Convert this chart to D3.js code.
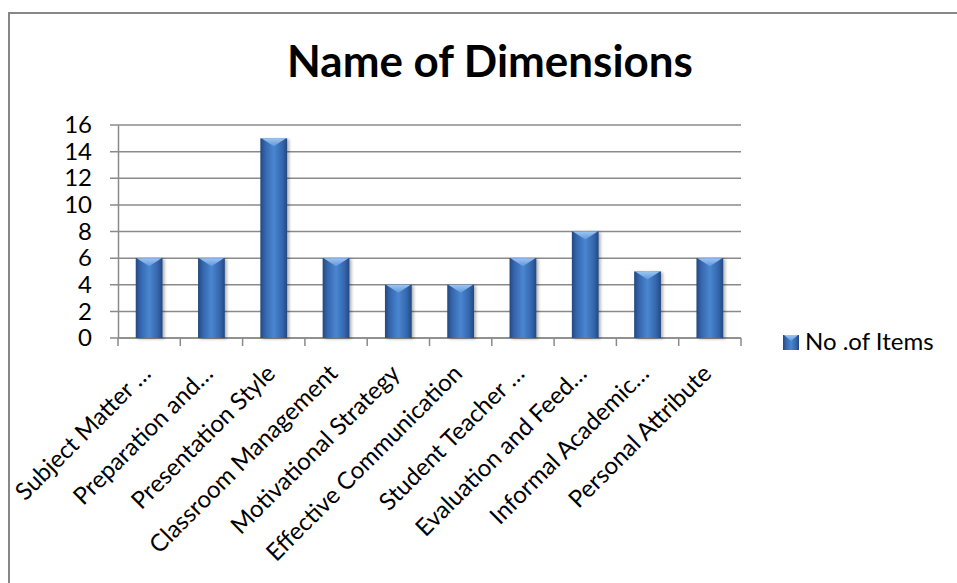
<!DOCTYPE html>
<html>
<head>
<meta charset="utf-8">
<script src="https://cdn.jsdelivr.net/npm/d3@7"></script>
<style>
  body { margin: 0; background: white; }
  svg { display: block; font-family: Lato, 'Open Sans', sans-serif; }
</style>
</head>
<body>
<div class="display"></div>
<script>
const categories = ['Subject Matter \u2026', 'Preparation and\u2026', 'Presentation Style', 'Classroom Management',
    'Motivational Strategy', 'Effective Communication', 'Student Teacher \u2026', 'Evaluation and Feed\u2026',
    'Informal Academic\u2026', 'Personal Attribute'];
const values = [6, 6, 15, 6, 4, 4, 6, 8, 5, 6];
const yTicks = [0, 2, 4, 6, 8, 10, 12, 14, 16];
const seriesName = 'No .of Items';
const title = 'Name of Dimensions';

const width = 957;
const height = 583;
const plotLeft = 118, plotRight = 741, plotTop = 125, plotBottom = 338;
const labelSize = 24;

const svg = d3.select('.display')
    .append('svg')
    .attr('width', width)
    .attr('height', height);

const defs = svg.append('defs');
const grad = defs.append('linearGradient').attr('id', 'barGrad')
    .attr('x1', 0).attr('x2', 1).attr('y1', 0).attr('y2', 0);
grad.append('stop').attr('offset', '0%').attr('stop-color', '#24487f');
grad.append('stop').attr('offset', '18%').attr('stop-color', '#3466ad');
grad.append('stop').attr('offset', '50%').attr('stop-color', '#4a86d0');
grad.append('stop').attr('offset', '82%').attr('stop-color', '#3466ad');
grad.append('stop').attr('offset', '100%').attr('stop-color', '#24487f');

const capGrad = defs.append('linearGradient').attr('id', 'capGrad')
    .attr('x1', 0).attr('x2', 0).attr('y1', 0).attr('y2', 1);
capGrad.append('stop').attr('offset', '0%').attr('stop-color', '#9cc6f2');
capGrad.append('stop').attr('offset', '100%').attr('stop-color', '#5f98dc');

const shadow = defs.append('filter').attr('id', 'shadow')
    .attr('x', '-30%').attr('y', '-10%').attr('width', '160%').attr('height', '130%');
shadow.append('feDropShadow').attr('dx', 2).attr('dy', 1).attr('stdDeviation', 1.5)
    .attr('flood-color', '#000').attr('flood-opacity', 0.3);

// outer frame
svg.append('path')
    .attr('d', `M9,${height + 5} V13 H${width + 5}`)
    .attr('fill', 'none')
    .attr('stroke', '#878787')
    .attr('stroke-width', 2);

const xScale = d3.scaleBand()
    .domain(categories)
    .range([plotLeft, plotRight])
    .paddingInner(0.57)
    .paddingOuter(0.285);

const yScale = d3.scaleLinear()
    .domain([0, 16])
    .range([plotBottom, plotTop]);

// gridlines
svg.append('g')
    .selectAll('line')
    .data(yTicks)
    .enter()
    .append('line')
    .attr('x1', plotLeft - 8)
    .attr('x2', plotRight)
    .attr('y1', d => yScale(d))
    .attr('y2', d => yScale(d))
    .attr('stroke', '#8a8a8a')
    .attr('stroke-width', 1.5);

// y axis
const yAxis = d3.axisLeft(yScale).tickValues(yTicks).tickSize(0).tickPadding(26);
svg.append('g')
    .attr('transform', `translate(${plotLeft}, 0)`)
    .call(yAxis)
    .call(g => g.select('.domain').attr('stroke', '#8a8a8a').attr('stroke-width', 1.5))
    .call(g => g.selectAll('text').attr('font-size', labelSize).attr('fill', '#000')
        .attr('font-family', 'Lato, sans-serif'));

// x axis ticks at category boundaries
const step = xScale.step();
const bounds = d3.range(categories.length + 1).map(i => plotLeft + i * step);
svg.append('g')
    .selectAll('line')
    .data(bounds)
    .enter()
    .append('line')
    .attr('x1', d => d)
    .attr('x2', d => d)
    .attr('y1', plotBottom)
    .attr('y2', plotBottom + 8)
    .attr('stroke', '#8a8a8a')
    .attr('stroke-width', 1.5);
svg.append('line')
    .attr('x1', plotLeft).attr('x2', plotRight)
    .attr('y1', plotBottom).attr('y2', plotBottom)
    .attr('stroke', '#8a8a8a').attr('stroke-width', 1.5);

// bars
const bars = svg.append('g')
    .selectAll('g')
    .data(values)
    .enter()
    .append('g');

bars.append('rect')
    .attr('x', (d, i) => xScale(categories[i]))
    .attr('y', d => yScale(d))
    .attr('width', xScale.bandwidth())
    .attr('height', d => plotBottom - yScale(d))
    .attr('fill', 'url(#barGrad)')
    .attr('filter', 'url(#shadow)');

bars.append('path')
    .attr('d', (d, i) => {
        const x0 = xScale(categories[i]);
        const w = xScale.bandwidth();
        const y0 = yScale(d);
        return `M${x0 + 1},${y0} H${x0 + w - 1} L${x0 + w / 2},${y0 + 8} Z`;
    })
    .attr('fill', 'url(#capGrad)');

// category labels
svg.append('g')
    .selectAll('text')
    .data(categories)
    .enter()
    .append('text')
    .attr('transform', d => `translate(${xScale(d) + xScale.bandwidth() / 2 + 3}, ${plotBottom + 37}) rotate(-45)`)
    .attr('text-anchor', 'end')
    .attr('font-size', labelSize)
    .attr('fill', '#000')
    .text(d => d);

// title
const titleText = svg.append('text')
    .attr('x', 490)
    .attr('y', 77)
    .attr('text-anchor', 'middle')
    .attr('font-size', 38)
    .attr('font-weight', 'bold')
    .attr('fill', '#000')
    .text(title);
const tw = titleText.node().getComputedTextLength();
titleText.attr('font-size', 38 * 406 / tw);

// legend
const legend = svg.append('g').attr('id', 'legend');
legend.append('rect')
    .attr('x', 783).attr('y', 335)
    .attr('width', 16).attr('height', 15)
    .attr('fill', 'url(#barGrad)');
legend.append('path')
    .attr('d', 'M784,335 H798 L791,341 Z')
    .attr('fill', 'url(#capGrad)');
legend.append('text')
    .attr('x', 805)
    .attr('y', 350)
    .attr('font-size', labelSize)
    .attr('fill', '#000')
    .text(seriesName);
</script>
</body>
</html>
